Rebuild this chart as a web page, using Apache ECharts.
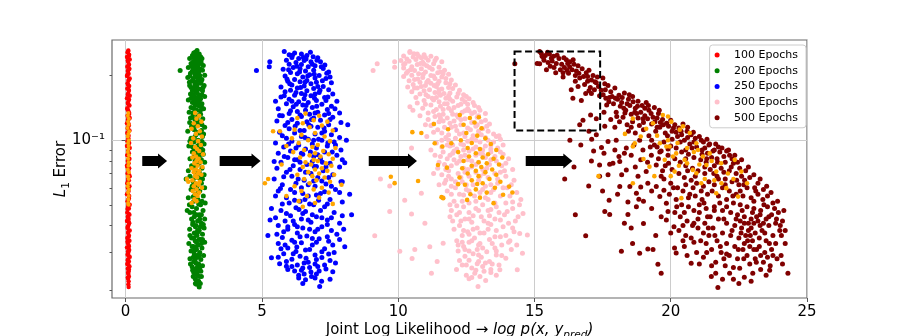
<!DOCTYPE html>
<html><head><meta charset="utf-8">
<script src="https://cdn.jsdelivr.net/npm/echarts@6/dist/echarts.min.js"></script>
<style>html,body{margin:0;padding:0;background:#fff}#c{width:897px;height:336px}</style>
</head><body><div id="c"></div>
<script>
const xTicks=[0,5,10,15,20,25];
const yMajor=[0.1];
const yMinor=[0.02,0.03,0.04,0.05,0.06,0.07,0.08,0.09,0.2];
const legendNames=['100 Epochs','200 Epochs','250 Epochs','300 Epochs','500 Epochs'];

const e100=[[0.1,0.262],[0.07,0.256],[0.13,0.25],[0.05,0.244],[0.15,0.238],[0.09,0.232],[0.12,0.226],[0.06,0.22],[0.14,0.215],[0.08,0.21],[0.11,0.204],[0.05,0.199],[0.15,0.194],[0.1,0.189],[0.07,0.184],[0.13,0.179],[0.06,0.174],[0.12,0.17],[0.09,0.165],[0.15,0.161],[0.05,0.157],[0.11,0.153],[0.08,0.149],[0.14,0.145],[0.06,0.141],[0.1,0.137],[0.13,0.134],[0.07,0.13],[0.15,0.127],[0.09,0.124],[0.05,0.12],[0.12,0.117],[0.08,0.114],[0.14,0.111],[0.06,0.108],[0.11,0.105],[0.1,0.102],[0.07,0.099],[0.13,0.097],[0.05,0.094],[0.15,0.092],[0.09,0.089],[0.12,0.087],[0.06,0.085],[0.14,0.082],[0.08,0.08],[0.11,0.078],[0.05,0.076],[0.13,0.074],[0.1,0.072],[0.07,0.07],[0.15,0.068],[0.09,0.066],[0.12,0.065],[0.06,0.063],[0.14,0.061],[0.08,0.06],[0.11,0.058],[0.05,0.056],[0.13,0.055],[0.1,0.053],[0.07,0.052],[0.15,0.05],[0.09,0.049],[0.12,0.048],[0.06,0.046],[0.14,0.045],[0.08,0.044],[0.11,0.043],[0.05,0.042],[0.13,0.041],[0.1,0.04],[0.07,0.039],[0.15,0.038],[0.09,0.037],[0.12,0.036],[0.06,0.035],[0.14,0.034],[0.08,0.0332],[0.11,0.0324],[0.05,0.0316],[0.13,0.0308],[0.1,0.03],[0.07,0.0293],[0.15,0.0286],[0.09,0.0279],[0.12,0.0272],[0.06,0.0265],[0.14,0.0258],[0.08,0.0252],[0.11,0.0245],[0.1,0.0238],[0.12,0.0232],[0.09,0.0226],[0.11,0.022],[0.1,0.0213],[0.11,0.0207],[0.09,0.259],[0.12,0.247],[0.08,0.235],[0.11,0.223],[0.1,0.212],[0.07,0.202],[0.12,0.192],[0.09,0.181],[0.11,0.172],[0.08,0.163],[0.12,0.155],[0.1,0.147],[0.07,0.139],[0.12,0.132],[0.09,0.125],[0.11,0.119],[0.08,0.113],[0.1,0.098],[0.12,0.093],[0.08,0.086],[0.1,0.081],[0.07,0.075],[0.12,0.069],[0.09,0.0645],[0.11,0.06],[0.08,0.0565],[0.12,0.0535],[0.1,0.0505],[0.07,0.0478],[0.11,0.0455],[0.09,0.0435],[0.12,0.0415],[0.08,0.0395],[0.1,0.0375],[0.11,0.0355],[0.07,0.0337],[0.12,0.032],[0.09,0.0304],[0.11,0.029],[0.08,0.0276],[0.1,0.0262],[0.12,0.025],[0.09,0.0241],[0.08,0.0229]];
const e100sel=[[0.1,0.134],[0.08,0.13],[0.12,0.126],[0.09,0.122],[0.11,0.118],[0.07,0.114],[0.13,0.11],[0.1,0.107],[0.08,0.104],[0.12,0.1],[0.09,0.097],[0.11,0.094],[0.1,0.091],[0.08,0.088],[0.12,0.085],[0.09,0.082],[0.11,0.079],[0.1,0.076],[0.08,0.073],[0.12,0.071],[0.09,0.068],[0.11,0.066],[0.1,0.063],[0.08,0.061],[0.12,0.059],[0.09,0.057],[0.11,0.055],[0.1,0.053],[0.09,0.051],[0.11,0.05]];

const e200=[[2.62,0.262],[2.5,0.255],[2.7,0.252],[2.45,0.248],[2.58,0.246],[2.75,0.245],[2.35,0.24],[2.55,0.238],[2.68,0.236],[2.8,0.24],[2.48,0.232],[2.62,0.23],[2.4,0.228],[2.72,0.228],[2.0,0.211],[2.5,0.224],[2.65,0.222],[2.85,0.223],[2.3,0.218],[2.58,0.216],[2.75,0.214],[2.45,0.21],[2.68,0.208],[2.82,0.212],[2.38,0.205],[2.55,0.203],[2.72,0.2],[2.62,0.198],[2.9,0.201],[2.28,0.196],[2.48,0.194],[2.8,0.192],[2.65,0.19],[2.42,0.188],[2.55,0.186],[2.75,0.184],[2.35,0.18],[2.6,0.178],[2.88,0.18],[2.5,0.175],[2.7,0.173],[2.45,0.17],[2.82,0.17],[2.58,0.167],[2.38,0.164],[2.68,0.162],[2.52,0.159],[2.9,0.16],[2.75,0.156],[2.3,0.154],[2.62,0.152],[2.45,0.15],[2.8,0.148],[2.55,0.146],[2.7,0.144],[2.4,0.142],[2.86,0.14],[2.6,0.138],[2.33,0.135],[2.5,0.133],[2.75,0.132],[2.65,0.13],[2.45,0.128],[2.83,0.126],[2.55,0.124],[2.35,0.121],[2.72,0.12],[2.62,0.117],[2.9,0.115],[2.48,0.113],[2.28,0.11],[2.7,0.108],[2.58,0.106],[2.82,0.104],[2.4,0.102],[2.66,0.1],[2.5,0.098],[2.88,0.096],[2.32,0.094],[2.76,0.092],[2.6,0.09],[2.45,0.088],[2.85,0.086],[2.7,0.084],[2.36,0.082],[2.55,0.08],[2.9,0.079],[2.64,0.077],[2.42,0.076],[2.8,0.074],[2.3,0.072],[2.58,0.07],[2.88,0.069],[2.68,0.067],[2.22,0.066],[2.48,0.064],[2.78,0.063],[2.62,0.061],[2.9,0.06],[2.4,0.059],[2.72,0.058],[2.55,0.056],[2.85,0.055],[2.3,0.054],[2.65,0.053],[2.5,0.052],[2.92,0.051],[2.75,0.05],[2.44,0.049],[2.6,0.048],[2.84,0.047],[2.36,0.046],[2.7,0.045],[2.52,0.044],[2.9,0.043],[2.64,0.042],[2.26,0.047],[2.78,0.041],[2.46,0.0405],[2.58,0.04],[2.88,0.039],[2.35,0.0385],[2.7,0.038],[2.52,0.037],[2.82,0.0365],[2.62,0.036],[2.42,0.035],[2.75,0.0345],[2.55,0.034],[2.9,0.0335],[2.32,0.033],[2.66,0.0325],[2.48,0.032],[2.8,0.0315],[2.6,0.031],[2.4,0.0305],[2.72,0.03],[2.52,0.0295],[2.86,0.029],[2.63,0.0285],[2.36,0.028],[2.76,0.0278],[2.5,0.0272],[2.68,0.0265],[2.82,0.026],[2.44,0.0257],[2.58,0.0252],[2.7,0.0247],[2.5,0.0242],[2.63,0.0236],[2.78,0.0232],[2.55,0.0226],[2.68,0.022],[2.6,0.0213],[2.7,0.0207],[2.56,0.257],[2.66,0.243],[2.52,0.226],[2.6,0.207],[2.7,0.194],[2.62,0.182],[2.58,0.172],[2.66,0.158],[2.48,0.141],[2.62,0.127],[2.56,0.118],[2.78,0.111],[2.52,0.103],[2.7,0.097],[2.6,0.086],[2.78,0.081],[2.5,0.075],[2.7,0.071],[2.54,0.067],[2.66,0.057],[2.6,0.045],[2.72,0.043],[2.56,0.0395],[2.66,0.0375],[2.6,0.0335],[2.54,0.0308],[2.66,0.0292],[2.58,0.0268],[2.72,0.0255],[2.62,0.0243],[2.74,0.0215],[2.48,0.0232],[2.7,0.0345],[2.74,0.0395],[2.48,0.0545],[2.56,0.0625],[2.76,0.0875],[2.52,0.0915],[2.8,0.0985],[2.42,0.116],[2.74,0.137],[2.5,0.155],[2.8,0.163],[2.4,0.176],[2.52,0.213],[2.76,0.233],[2.57,0.249],[2.73,0.238],[2.46,0.219],[2.64,0.211],[2.36,0.199],[2.77,0.187],[2.54,0.181],[2.47,0.162],[2.7,0.151],[2.56,0.139],[2.8,0.118],[2.38,0.127],[2.62,0.109],[2.46,0.093],[2.7,0.078],[2.36,0.068],[2.82,0.066],[2.44,0.061],[2.6,0.054],[2.8,0.052],[2.34,0.05],[2.5,0.046],[2.78,0.045],[2.42,0.043],[2.64,0.038],[2.5,0.035],[2.78,0.033],[2.44,0.032],[2.7,0.029],[2.55,0.0278],[2.38,0.0265],[2.76,0.0245],[2.58,0.0238],[2.6,0.0222],[2.63,0.253],[2.52,0.241],[2.77,0.229],[2.43,0.222],[2.69,0.216],[2.55,0.197],[2.34,0.186],[2.84,0.176],[2.63,0.166],[2.4,0.157],[2.58,0.149],[2.78,0.143],[2.46,0.134],[2.67,0.122],[2.52,0.112],[2.86,0.107],[2.36,0.099],[2.64,0.094],[2.83,0.09],[2.52,0.084],[2.73,0.066],[2.58,0.0595],[2.68,0.0505],[2.47,0.0415],[2.85,0.0405],[2.6,0.0365],[2.36,0.036],[2.82,0.0345],[2.58,0.0318],[2.48,0.0285],[2.64,0.0258],[2.46,0.0248],[2.7,0.0232],[2.56,0.0215]];
const e200sel=[[2.55,0.134],[2.7,0.13],[2.6,0.126],[2.78,0.122],[2.5,0.12],[2.65,0.116],[2.42,0.113],[2.72,0.11],[2.58,0.107],[2.8,0.104],[2.48,0.102],[2.66,0.099],[2.4,0.097],[2.76,0.095],[2.55,0.093],[2.62,0.091],[2.7,0.089],[2.5,0.087],[2.84,0.086],[2.58,0.084],[2.45,0.083],[2.68,0.082],[2.6,0.08],[2.75,0.079],[2.52,0.078],[2.64,0.076],[2.82,0.075],[2.42,0.074],[2.58,0.073],[2.7,0.072],[2.5,0.071],[2.66,0.07],[2.78,0.069],[2.55,0.068],[2.62,0.067],[2.25,0.066],[2.3,0.064],[2.45,0.065],[2.72,0.064],[2.58,0.063],[2.68,0.062],[2.5,0.061],[2.8,0.06],[2.6,0.059],[2.46,0.058],[2.7,0.057],[2.55,0.056],[2.64,0.055],[2.52,0.053],[2.6,0.052],[2.42,0.051]];

const e250=[[5.82,0.259],[6.0,0.25],[6.88,0.245],[7.31,0.224],[6.2,0.255],[6.45,0.252],[6.65,0.248],[6.1,0.243],[6.35,0.24],[7.05,0.242],[5.9,0.236],[6.55,0.235],[6.8,0.232],[6.25,0.23],[7.15,0.232],[6.0,0.226],[6.45,0.225],[6.95,0.222],[6.7,0.22],[5.29,0.232],[5.27,0.22],[4.8,0.211],[5.78,0.214],[6.15,0.218],[6.4,0.215],[7.25,0.216],[6.9,0.212],[6.6,0.21],[6.05,0.207],[7.45,0.208],[6.3,0.204],[6.75,0.202],[7.1,0.2],[5.85,0.199],[6.5,0.197],[6.95,0.195],[7.35,0.194],[6.2,0.192],[6.65,0.19],[5.95,0.188],[6.4,0.187],[7.0,0.186],[7.55,0.185],[6.8,0.183],[6.1,0.181],[6.55,0.179],[7.25,0.178],[5.7,0.177],[6.3,0.175],[6.9,0.174],[7.45,0.172],[6.05,0.171],[6.65,0.17],[5.85,0.168],[7.1,0.167],[6.45,0.165],[7.6,0.164],[6.2,0.162],[6.8,0.161],[5.7,0.159],[7.3,0.158],[6.55,0.156],[6.0,0.155],[7.0,0.153],[7.75,0.152],[6.35,0.151],[6.7,0.15],[5.9,0.148],[7.2,0.147],[6.5,0.146],[7.55,0.144],[6.15,0.143],[6.85,0.142],[5.6,0.14],[7.4,0.139],[6.6,0.138],[6.3,0.136],[7.05,0.135],[7.85,0.134],[6.0,0.133],[6.75,0.132],[7.3,0.131],[5.75,0.13],[6.45,0.129],[7.6,0.128],[6.9,0.127],[6.1,0.125],[7.15,0.124],[5.55,0.123],[6.65,0.122],[7.9,0.121],[6.3,0.12],[7.45,0.118],[5.85,0.117],[6.8,0.116],[7.05,0.115],[6.0,0.113],[7.7,0.112],[6.55,0.111],[7.3,0.11],[5.65,0.109],[6.2,0.108],[6.95,0.107],[7.55,0.106],[6.45,0.104],[7.85,0.103],[5.9,0.102],[6.7,0.101],[7.2,0.1],[6.1,0.099],[7.65,0.098],[5.5,0.097],[6.85,0.096],[6.35,0.095],[7.4,0.094],[5.8,0.093],[7.0,0.092],[6.6,0.091],[7.9,0.09],[6.05,0.089],[7.3,0.088],[5.6,0.087],[6.5,0.086],[7.75,0.085],[6.9,0.084],[5.95,0.083],[7.15,0.082],[6.3,0.081],[8.04,0.0785],[5.7,0.079],[7.5,0.078],[6.65,0.077],[6.15,0.076],[7.0,0.0755],[7.85,0.075],[5.55,0.074],[6.4,0.073],[7.25,0.072],[5.9,0.071],[6.8,0.07],[7.6,0.069],[6.1,0.068],[7.05,0.067],[5.45,0.066],[6.55,0.065],[7.9,0.064],[6.25,0.063],[7.35,0.0625],[5.75,0.062],[6.95,0.061],[6.45,0.06],[7.7,0.059],[5.6,0.058],[6.2,0.057],[7.15,0.0565],[8.22,0.056],[6.7,0.055],[5.9,0.054],[7.5,0.053],[6.4,0.052],[7.95,0.0515],[6.0,0.051],[6.9,0.05],[5.35,0.048],[7.3,0.049],[6.25,0.0485],[5.7,0.047],[6.6,0.0465],[7.65,0.046],[8.29,0.045],[6.05,0.0445],[7.0,0.044],[5.5,0.0435],[6.45,0.043],[7.4,0.0425],[5.85,0.042],[6.8,0.0415],[7.85,0.041],[6.2,0.0405],[5.6,0.04],[7.2,0.0395],[6.5,0.039],[5.95,0.0385],[7.55,0.038],[6.95,0.0375],[6.3,0.037],[5.22,0.036],[7.75,0.0365],[6.65,0.0358],[5.75,0.0352],[7.1,0.0347],[6.1,0.0342],[7.45,0.0338],[6.45,0.0333],[5.6,0.033],[6.85,0.0325],[8.04,0.0319],[5.95,0.0315],[7.3,0.0312],[6.6,0.0308],[6.25,0.0303],[7.65,0.03],[5.8,0.0296],[6.95,0.0292],[5.35,0.0283],[6.4,0.0288],[7.2,0.0284],[6.1,0.0279],[7.5,0.0275],[6.7,0.027],[5.65,0.0266],[6.3,0.0262],[7.05,0.0258],[6.5,0.0254],[5.95,0.025],[7.35,0.0251],[6.2,0.0246],[6.8,0.0243],[7.6,0.0244],[6.55,0.0238],[6.82,0.0232],[6.35,0.0228],[7.19,0.022],[6.6,0.0224],[7.12,0.0208],[6.52,0.243],[6.78,0.257],[7.02,0.236],[6.28,0.221],[6.85,0.226],[7.38,0.205],[5.98,0.213],[6.68,0.199],[7.22,0.189],[6.02,0.183],[6.42,0.176],[7.13,0.171],[5.82,0.161],[6.58,0.163],[7.42,0.159],[6.93,0.157],[6.26,0.147],[7.01,0.144],[7.68,0.14],[6.4,0.131],[6.95,0.134],[7.5,0.125],[5.95,0.121],[6.72,0.118],[7.28,0.114],[6.22,0.116],[5.75,0.105],[6.58,0.103],[7.08,0.101],[7.42,0.097],[6.25,0.092],[6.78,0.088],[7.58,0.088],[5.82,0.084],[6.4,0.079],[7.22,0.079],[6.03,0.073],[6.92,0.0755],[7.45,0.067],[6.33,0.066],[6.7,0.062],[5.68,0.0595],[7.3,0.0575],[6.58,0.053],[7.08,0.0525],[5.75,0.0505],[6.36,0.0475],[7.15,0.047],[6.85,0.045],[7.55,0.0435],[6.15,0.042],[5.95,0.0395],[6.75,0.0385],[7.4,0.0405],[6.4,0.0355],[7.0,0.0335],[7.85,0.0345],[6.28,0.0318],[5.7,0.0312],[7.45,0.0295],[6.62,0.0282],[5.9,0.0272],[6.95,0.0265],[7.7,0.0268],[6.45,0.0248],[7.0,0.0238],[6.1,0.0258],[5.55,0.0365],[5.45,0.0795],[5.65,0.1305],[5.5,0.152],[8.1,0.1],[7.95,0.064],[8.15,0.118],[6.12,0.249],[6.62,0.239],[7.18,0.22],[6.38,0.208],[6.92,0.203],[5.92,0.193],[7.5,0.197],[6.58,0.186],[7.05,0.178],[6.25,0.167],[6.95,0.164],[7.35,0.153],[6.1,0.152],[6.62,0.145],[7.45,0.133],[6.82,0.125],[6.05,0.137],[7.2,0.108],[6.4,0.111],[6.9,0.1],[5.98,0.096],[7.7,0.095],[6.45,0.087],[7.05,0.0855],[7.95,0.081],[6.2,0.081],[6.85,0.0795],[7.35,0.075],[6.6,0.071],[5.8,0.0675],[7.2,0.0645],[6.9,0.0645],[6.05,0.059],[7.55,0.061],[6.5,0.0565],[7.0,0.0555],[5.5,0.055],[7.85,0.057],[6.2,0.0525],[6.75,0.0505],[7.4,0.0505],[6.5,0.0455],[5.9,0.0455],[7.2,0.0435],[6.7,0.0425],[7.95,0.0445],[6.3,0.0395],[7.05,0.0385],[5.8,0.0375],[7.4,0.0355],[6.85,0.0348],[6.2,0.0335],[7.6,0.0325],[5.85,0.0325],[6.75,0.031],[7.2,0.0302],[6.15,0.0296],[7.0,0.0278],[6.55,0.0268],[7.3,0.0262],[5.9,0.0259],[6.75,0.0255],[7.1,0.0246],[6.35,0.0235],[6.95,0.0228],[6.5,0.0215],[7.5,0.0225],[5.6,0.0285],[5.3,0.0425],[8.0,0.0385]];
const e250sel=[[6.6,0.133],[7.1,0.13],[6.3,0.127],[6.9,0.124],[7.4,0.122],[6.5,0.12],[7.2,0.117],[6.75,0.115],[5.41,0.11],[5.66,0.11],[6.2,0.112],[7.6,0.111],[6.95,0.108],[6.45,0.106],[7.3,0.104],[6.1,0.102],[6.7,0.1],[7.5,0.099],[6.35,0.097],[7.05,0.095],[5.9,0.094],[6.85,0.093],[7.7,0.092],[6.55,0.09],[7.25,0.089],[6.15,0.088],[6.95,0.087],[7.45,0.086],[6.75,0.085],[7.15,0.084],[6.4,0.083],[7.6,0.082],[6.9,0.081],[7.05,0.08],[6.6,0.079],[7.35,0.078],[6.8,0.077],[5.72,0.077],[7.55,0.076],[6.5,0.075],[7.2,0.074],[6.95,0.073],[7.4,0.072],[6.7,0.071],[7.1,0.07],[6.3,0.069],[7.65,0.069],[6.85,0.068],[7.3,0.067],[5.23,0.066],[6.55,0.066],[7.0,0.065],[7.5,0.064],[5.11,0.063],[6.75,0.063],[7.92,0.062],[6.2,0.061],[7.2,0.06],[6.9,0.059],[6.45,0.058],[7.45,0.057],[5.9,0.055],[6.65,0.055],[7.1,0.054],[6.35,0.052],[6.95,0.051],[7.6,0.0505],[6.5,0.049]];

const e300=[[10.43,0.259],[10.43,0.256],[10.7,0.252],[10.95,0.25],[10.2,0.247],[11.2,0.246],[10.55,0.244],[10.85,0.242],[11.4,0.241],[10.1,0.235],[10.65,0.238],[11.1,0.236],[9.87,0.232],[9.23,0.227],[9.08,0.211],[9.87,0.219],[10.4,0.233],[10.9,0.231],[11.6,0.232],[10.25,0.228],[11.3,0.227],[10.7,0.225],[11.05,0.222],[10.5,0.22],[11.5,0.219],[10.2,0.217],[10.85,0.215],[11.25,0.214],[11.7,0.212],[10.6,0.211],[10.35,0.209],[11.0,0.208],[11.45,0.206],[10.75,0.204],[11.85,0.203],[10.5,0.201],[11.2,0.2],[10.2,0.198],[11.6,0.197],[10.9,0.196],[11.35,0.194],[10.6,0.192],[11.95,0.191],[11.1,0.19],[10.4,0.189],[11.5,0.188],[10.8,0.186],[11.75,0.185],[11.2,0.184],[10.55,0.182],[12.1,0.181],[11.0,0.18],[11.4,0.178],[10.35,0.177],[11.85,0.176],[10.7,0.175],[11.6,0.173],[11.15,0.172],[12.25,0.171],[10.95,0.17],[10.5,0.168],[11.35,0.167],[11.9,0.166],[10.8,0.164],[12.4,0.163],[11.55,0.162],[11.1,0.16],[12.15,0.159],[10.65,0.158],[11.75,0.157],[12.6,0.156],[11.3,0.154],[10.95,0.153],[12.0,0.152],[11.5,0.151],[12.75,0.15],[10.43,0.143],[10.7,0.149],[11.8,0.148],[12.3,0.147],[11.2,0.146],[12.8,0.145],[11.55,0.144],[12.05,0.142],[10.9,0.141],[12.55,0.14],[11.4,0.139],[13.0,0.138],[10.54,0.138],[11.95,0.137],[12.35,0.135],[11.1,0.134],[12.7,0.133],[11.65,0.132],[12.15,0.131],[10.8,0.13],[11.35,0.129],[12.9,0.128],[11.8,0.127],[12.45,0.126],[11.1,0.125],[13.2,0.124],[12.05,0.123],[11.5,0.122],[12.7,0.121],[11.9,0.12],[13.35,0.119],[12.3,0.118],[11.2,0.117],[12.85,0.116],[11.7,0.115],[12.55,0.114],[13.1,0.113],[11.45,0.112],[12.15,0.111],[12.95,0.11],[11.3,0.109],[12.4,0.108],[13.5,0.107],[11.85,0.106],[12.75,0.105],[11.05,0.104],[13.2,0.103],[12.1,0.102],[13.75,0.101],[11.6,0.1],[12.55,0.099],[13.0,0.098],[11.4,0.097],[12.3,0.096],[13.4,0.095],[11.9,0.094],[12.85,0.093],[10.49,0.092],[13.65,0.092],[12.15,0.091],[11.2,0.09],[13.1,0.09],[12.6,0.089],[11.65,0.088],[13.4,0.088],[12.0,0.087],[13.85,0.086],[11.35,0.085],[12.85,0.085],[12.3,0.084],[13.2,0.083],[11.8,0.082],[14.05,0.082],[12.55,0.081],[13.6,0.08],[11.5,0.079],[12.95,0.079],[12.15,0.078],[13.35,0.077],[11.95,0.076],[13.8,0.076],[12.7,0.075],[11.45,0.074],[12.4,0.074],[13.1,0.073],[14.2,0.073],[11.85,0.072],[12.85,0.071],[13.55,0.07],[12.2,0.07],[11.6,0.069],[13.95,0.068],[12.6,0.068],[13.3,0.067],[11.95,0.066],[9.35,0.066],[12.95,0.065],[14.25,0.065],[12.35,0.064],[13.65,0.063],[11.7,0.063],[12.75,0.062],[9.69,0.0612],[13.2,0.061],[14.0,0.06],[12.1,0.06],[10.85,0.0566],[12.5,0.059],[13.5,0.059],[11.8,0.058],[13.0,0.057],[14.35,0.057],[12.25,0.056],[13.75,0.055],[12.8,0.055],[11.65,0.054],[13.3,0.053],[14.5,0.053],[12.05,0.052],[12.6,0.051],[10.24,0.0525],[13.95,0.051],[13.1,0.05],[11.9,0.05],[12.4,0.049],[13.6,0.049],[14.58,0.0455],[12.85,0.048],[14.2,0.048],[11.95,0.047],[9.69,0.0465],[13.3,0.047],[12.6,0.046],[13.9,0.045],[10.49,0.0453],[12.15,0.045],[13.05,0.044],[14.4,0.044],[12.45,0.043],[13.55,0.043],[12.0,0.042],[13.15,0.042],[10.98,0.041],[12.7,0.0415],[14.05,0.041],[13.4,0.0405],[12.25,0.04],[13.85,0.0395],[12.9,0.039],[14.46,0.0368],[14.74,0.0362],[12.05,0.0385],[13.6,0.038],[12.55,0.0375],[14.25,0.0375],[13.15,0.037],[12.35,0.036],[13.75,0.0355],[9.14,0.0359],[12.8,0.035],[11.65,0.0331],[13.35,0.0345],[12.15,0.034],[14.1,0.034],[12.6,0.0335],[13.0,0.033],[13.8,0.0325],[11.16,0.0319],[12.4,0.032],[13.55,0.0315],[12.9,0.031],[10.61,0.031],[10.06,0.0304],[14.15,0.031],[12.2,0.0305],[13.25,0.0302],[14.56,0.0297],[12.75,0.0296],[13.6,0.0292],[10.51,0.0281],[12.45,0.0288],[13.05,0.0285],[13.95,0.0282],[11.43,0.0272],[12.6,0.0276],[13.35,0.0272],[12.9,0.0266],[13.7,0.0262],[12.35,0.0262],[13.1,0.0258],[12.14,0.025],[13.73,0.0249],[14.37,0.0249],[12.7,0.0254],[11.22,0.024],[12.81,0.024],[13.4,0.0242],[12.5,0.0235],[13.0,0.0232],[13.21,0.0222],[12.93,0.0208],[12.6,0.0226],[11.25,0.157],[11.85,0.161],[12.35,0.155],[11.65,0.139],[12.2,0.128],[12.6,0.137],[11.55,0.127],[12.9,0.118],[12.45,0.104],[11.75,0.103],[13.3,0.11],[12.85,0.1],[12.0,0.095],[13.5,0.098],[12.4,0.09],[11.9,0.085],[13.0,0.087],[13.55,0.084],[12.25,0.08],[11.7,0.077],[12.85,0.077],[13.95,0.078],[13.15,0.07],[12.45,0.071],[11.85,0.068],[13.75,0.071],[12.1,0.064],[13.4,0.062],[12.6,0.058],[11.95,0.056],[13.2,0.054],[14.1,0.055],[12.35,0.052],[13.55,0.051],[12.95,0.047],[12.25,0.046],[13.7,0.046],[14.3,0.042],[12.6,0.043],[13.3,0.041],[12.4,0.038],[13.0,0.037],[13.95,0.036],[12.7,0.034],[13.45,0.033],[12.45,0.031],[14.35,0.0325],[13.1,0.0315],[13.8,0.029],[12.25,0.0275],[12.95,0.0272],[13.4,0.025],[12.2,0.0325],[11.9,0.044],[11.5,0.062],[11.3,0.07],[11.8,0.095],[11.0,0.118],[10.6,0.175],[11.45,0.183],[10.3,0.205],[10.95,0.226],[11.65,0.204],[10.75,0.246],[11.5,0.166],[12.2,0.145],[10.2,0.225],[11.95,0.115],[13.6,0.104],[14.15,0.062],[14.45,0.05],[10.58,0.253],[11.0,0.243],[10.32,0.239],[11.35,0.235],[10.82,0.228],[11.15,0.218],[10.45,0.213],[11.55,0.208],[10.92,0.203],[11.3,0.199],[11.75,0.194],[10.72,0.193],[11.05,0.186],[11.9,0.183],[11.32,0.18],[10.85,0.178],[12.0,0.174],[11.5,0.172],[11.02,0.163],[11.68,0.165],[12.2,0.165],[12.5,0.16],[11.4,0.158],[11.9,0.155],[12.45,0.151],[11.0,0.147],[11.7,0.148],[12.55,0.147],[12.95,0.142],[11.3,0.136],[11.85,0.141],[12.45,0.137],[12.8,0.135],[11.5,0.131],[12.0,0.132],[12.95,0.13],[13.2,0.133],[11.65,0.123],[12.3,0.125],[13.05,0.122],[11.3,0.119],[12.1,0.116],[12.65,0.112],[13.25,0.116],[11.6,0.108],[12.25,0.107],[13.05,0.106],[13.7,0.105],[11.85,0.1],[12.7,0.101],[13.3,0.1],[11.6,0.093],[12.4,0.095],[13.2,0.094],[13.85,0.095],[12.05,0.089],[12.75,0.091],[13.4,0.091],[11.55,0.084],[12.45,0.085],[13.1,0.086],[13.75,0.088],[12.05,0.081],[12.7,0.08],[13.4,0.081],[13.9,0.072],[11.75,0.073],[12.55,0.073],[13.25,0.074],[12.3,0.067],[13.0,0.068],[13.65,0.066],[11.75,0.065],[12.5,0.062],[13.1,0.059],[13.85,0.06],[11.95,0.061],[12.4,0.0555],[13.4,0.057],[14.2,0.0515],[12.15,0.0495],[12.85,0.052],[13.4,0.0475],[14.0,0.0465],[12.75,0.0445],[13.35,0.0445],[12.3,0.042],[13.75,0.0425],[14.2,0.039],[12.75,0.0385],[13.3,0.0385],[12.6,0.0365],[13.55,0.0355],[14.05,0.0335],[12.35,0.0335],[12.95,0.0325],[13.6,0.0305],[12.6,0.0305],[12.95,0.0292],[13.2,0.0268],[12.5,0.0262],[13.45,0.0265],[12.85,0.0248],[13.15,0.0245],[12.7,0.0229],[13.6,0.0235]];
const e300sel=[[10.52,0.109],[10.85,0.108],[11.31,0.119],[9.73,0.0676],[9.87,0.0631],[10.73,0.0646],[11.46,0.0766],[11.79,0.0745],[11.59,0.0543],[11.65,0.0537],[12.2,0.0624],[12.53,0.0527],[13.5,0.0509],[14.19,0.0571],[14.07,0.0608],[13.85,0.0557],[13.82,0.083],[12.26,0.131],[12.63,0.127],[12.96,0.128],[13.06,0.1137],[11.83,0.1125],[11.34,0.0968],[11.62,0.0934],[11.95,0.0968],[12.4,0.118],[12.8,0.121],[12.5,0.108],[12.9,0.105],[13.2,0.102],[12.3,0.1],[12.7,0.097],[13.4,0.096],[12.55,0.092],[13.0,0.091],[13.6,0.09],[12.2,0.088],[12.85,0.087],[13.3,0.086],[12.6,0.084],[13.1,0.083],[13.5,0.082],[12.4,0.08],[12.95,0.079],[13.25,0.078],[13.7,0.077],[12.7,0.076],[13.05,0.075],[12.35,0.074],[13.45,0.073],[12.85,0.072],[13.2,0.071],[12.55,0.07],[13.6,0.069],[12.95,0.068],[12.25,0.067],[13.35,0.066],[12.7,0.065],[13.75,0.064],[13.1,0.063],[12.45,0.062],[13.55,0.06],[12.85,0.059],[13.25,0.057],[12.65,0.056],[13.0,0.054],[12.9,0.0625]];

const e500=[[14.28,0.227],[15.1,0.228],[15.19,0.259],[15.25,0.254],[15.62,0.241],[15.19,0.227],[15.8,0.228],[16.17,0.237],[15.44,0.213],[15.78,0.206],[16.05,0.206],[16.29,0.22],[16.54,0.21],[16.66,0.195],[16.9,0.206],[17.09,0.191],[17.27,0.185],[16.84,0.182],[16.35,0.172],[16.41,0.157],[16.72,0.153],[17.09,0.165],[17.39,0.161],[17.7,0.18],[17.51,0.195],[16.78,0.124],[16.66,0.118],[17.06,0.131],[17.27,0.126],[15.4,0.248],[15.55,0.252],[15.7,0.246],[15.9,0.24],[15.35,0.236],[15.5,0.23],[15.65,0.234],[16.0,0.226],[16.3,0.232],[16.45,0.226],[16.1,0.218],[16.6,0.222],[16.75,0.215],[16.95,0.198],[16.5,0.2],[16.25,0.205],[17.15,0.2],[16.95,0.188],[17.35,0.178],[17.2,0.172],[16.6,0.178],[17.6,0.172],[17.8,0.168],[17.95,0.175],[18.1,0.162],[17.75,0.158],[18.3,0.166],[18.45,0.155],[18.2,0.15],[18.6,0.16],[18.8,0.152],[18.15,0.144],[18.5,0.145],[18.7,0.141],[18.95,0.145],[19.1,0.15],[18.35,0.138],[18.9,0.135],[19.2,0.138],[19.4,0.142],[18.55,0.132],[19.05,0.13],[19.35,0.128],[18.8,0.127],[19.55,0.133],[17.9,0.148],[17.65,0.146],[18.0,0.135],[18.25,0.128],[17.55,0.135],[18.6,0.122],[19.0,0.121],[19.3,0.119],[17.8,0.125],[18.4,0.118],[17.95,0.115],[16.11,0.066],[16.99,0.0612],[17.39,0.068],[17.39,0.0767],[17.17,0.0891],[17.46,0.0924],[17.76,0.0772],[17.88,0.078],[18.1,0.084],[17.7,0.069],[17.74,0.0525],[17.58,0.0465],[17.76,0.0451],[18.43,0.0516],[18.43,0.0451],[18.83,0.0531],[18.74,0.049],[19.0,0.0409],[16.88,0.0359],[18.19,0.0304],[18.86,0.0297],[19.16,0.0311],[19.53,0.0264],[19.65,0.024],[18.13,0.0608],[18.5,0.0608],[18.74,0.0566],[19.16,0.063],[19.47,0.0608],[19.6,0.0546],[19.84,0.0509],[19.84,0.0425],[20.12,0.0395],[19.9,0.0465],[17.27,0.106],[17.58,0.116],[18.0,0.1],[18.37,0.092],[18.55,0.085],[18.86,0.1],[18.98,0.09],[19.29,0.085],[19.47,0.0766],[19.1,0.0714],[19.65,0.068],[18.8,0.068],[18.37,0.0727],[18.13,0.0795],[18.7,0.108],[19.2,0.105],[19.45,0.11],[18.45,0.11],[19.0,0.112],[19.4,0.095],[18.65,0.095],[19.6,0.088],[19.15,0.079],[18.9,0.081],[17.09,0.08],[16.7,0.095],[16.3,0.1],[17.0,0.11],[16.45,0.075],[17.7,0.0985],[19.7,0.125],[19.85,0.12],[20.0,0.124],[20.15,0.118],[20.3,0.114],[20.45,0.119],[20.6,0.11],[20.75,0.106],[20.9,0.102],[21.05,0.104],[21.2,0.098],[21.4,0.095],[19.6,0.115],[19.8,0.108],[20.05,0.11],[20.25,0.104],[20.5,0.1],[20.7,0.096],[20.95,0.093],[21.15,0.09],[21.35,0.087],[19.75,0.098],[20.0,0.094],[20.2,0.092],[20.4,0.088],[20.65,0.086],[20.85,0.083],[21.1,0.081],[21.3,0.079],[21.5,0.083],[19.65,0.089],[19.9,0.085],[20.15,0.082],[20.35,0.079],[20.55,0.076],[20.8,0.074],[21.0,0.072],[21.25,0.07],[21.45,0.073],[19.8,0.076],[20.05,0.073],[20.3,0.07],[20.5,0.067],[20.75,0.065],[20.95,0.063],[21.2,0.061],[21.4,0.064],[19.75,0.066],[20.0,0.063],[20.25,0.06],[20.45,0.058],[20.7,0.056],[20.9,0.055],[21.15,0.053],[21.35,0.056],[19.95,0.056],[20.2,0.053],[20.4,0.05],[20.65,0.049],[20.85,0.047],[21.05,0.046],[21.3,0.048],[20.15,0.046],[20.35,0.044],[20.6,0.042],[20.8,0.04],[21.0,0.039],[21.25,0.041],[21.45,0.044],[20.3,0.038],[20.55,0.036],[20.75,0.035],[21.1,0.034],[21.4,0.036],[20.14,0.0315],[20.2,0.0298],[20.75,0.0267],[21.49,0.0232],[21.73,0.0206],[20.5,0.032],[20.95,0.03],[21.2,0.0285],[21.3,0.033],[21.43,0.096],[22.16,0.085],[22.53,0.074],[22.71,0.065],[23.08,0.06],[23.38,0.053],[23.81,0.048],[24.06,0.036],[24.3,0.024],[21.6,0.09],[21.8,0.088],[21.95,0.084],[21.7,0.082],[22.0,0.079],[22.3,0.078],[21.6,0.076],[21.85,0.074],[22.15,0.072],[22.4,0.07],[22.6,0.068],[21.7,0.068],[22.0,0.066],[22.25,0.064],[22.5,0.062],[22.8,0.06],[21.6,0.062],[21.9,0.06],[22.15,0.058],[22.4,0.056],[22.65,0.055],[22.95,0.054],[23.2,0.056],[21.75,0.055],[22.05,0.053],[22.3,0.051],[22.55,0.05],[22.8,0.049],[23.05,0.048],[23.3,0.047],[23.55,0.049],[21.6,0.049],[21.9,0.047],[22.2,0.046],[22.45,0.045],[22.7,0.044],[22.95,0.043],[23.2,0.042],[23.5,0.043],[23.7,0.045],[21.75,0.043],[22.05,0.041],[22.35,0.04],[22.6,0.039],[22.85,0.038],[23.1,0.037],[23.35,0.038],[23.6,0.04],[23.85,0.041],[21.55,0.039],[21.9,0.037],[22.2,0.036],[22.5,0.035],[22.75,0.036],[23.0,0.034],[23.25,0.035],[23.5,0.034],[23.75,0.036],[24.0,0.038],[21.7,0.034],[22.05,0.033],[22.35,0.032],[22.65,0.031],[22.9,0.032],[23.15,0.031],[23.45,0.03],[23.7,0.031],[21.5,0.031],[21.85,0.03],[22.15,0.029],[22.45,0.028],[22.8,0.029],[23.1,0.028],[23.4,0.027],[23.65,0.026],[21.65,0.027],[22.0,0.026],[22.3,0.0255],[22.53,0.0253],[22.16,0.024],[23.01,0.024],[23.14,0.027],[23.63,0.0248],[21.9,0.0225],[22.7,0.023],[22.5,0.0215],[23.3,0.025],[24.2,0.033],[23.9,0.028],[15.33,0.243],[15.58,0.221],[15.95,0.213],[16.22,0.228],[16.38,0.213],[16.05,0.197],[16.8,0.198],[17.22,0.187],[17.45,0.171],[17.05,0.176],[16.88,0.165],[17.62,0.157],[17.85,0.16],[18.05,0.155],[18.22,0.158],[18.4,0.148],[18.62,0.151],[18.78,0.144],[19.05,0.141],[19.28,0.133],[19.5,0.127],[18.32,0.134],[18.75,0.133],[19.15,0.126],[19.62,0.121],[19.92,0.116],[18.12,0.122],[18.85,0.117],[19.5,0.115],[20.2,0.109],[20.4,0.106],[20.05,0.101],[20.62,0.103],[20.85,0.098],[21.25,0.092],[21.55,0.089],[21.75,0.093],[22.05,0.089],[22.25,0.082],[22.45,0.079],[22.75,0.072],[22.9,0.067],[23.2,0.063],[23.4,0.059],[23.55,0.055],[23.75,0.051],[23.95,0.046],[24.1,0.042],[24.2,0.038],[19.3,0.1],[19.5,0.093],[19.9,0.091],[20.55,0.09],[21.15,0.086],[21.95,0.071],[22.55,0.058],[23.05,0.052],[23.6,0.044],[23.85,0.033],[24.05,0.029],[22.85,0.041],[22.55,0.042],[22.95,0.039],[23.15,0.044],[23.4,0.041],[22.7,0.033],[23.25,0.032],[23.55,0.0285],[21.35,0.044],[21.6,0.047],[21.05,0.05],[20.65,0.054],[20.1,0.06],[20.55,0.062],[20.9,0.068],[21.25,0.075],[21.8,0.051],[22.05,0.049],[21.95,0.043],[21.2,0.037],[20.85,0.041],[20.45,0.04],[20.0,0.037],[20.6,0.029],[21.05,0.0265],[21.5,0.026],[22.3,0.0225],[22.9,0.0265],[23.5,0.0235],[21.95,0.028],[17.5,0.058],[18.2,0.069],[18.55,0.039],[19.3,0.048],[19.45,0.036],[18.9,0.0605],[19.75,0.0585],[16.5,0.045],[17.95,0.09],[17.1,0.101],[15.48,0.257],[15.83,0.249],[16.08,0.242],[15.28,0.246],[16.42,0.237],[15.72,0.218],[16.2,0.211],[16.63,0.205],[17.0,0.212],[17.31,0.197],[16.5,0.188],[17.0,0.17],[17.58,0.183],[17.52,0.163],[17.73,0.151],[17.97,0.157],[18.28,0.141],[18.48,0.163],[18.68,0.135],[19.18,0.145],[19.58,0.138],[18.98,0.126],[19.42,0.122],[18.02,0.129],[18.55,0.115],[19.73,0.118],[20.1,0.114],[20.38,0.11],[20.62,0.115],[20.83,0.109],[21.12,0.1],[21.33,0.101],[21.65,0.096],[21.88,0.092],[22.12,0.09],[22.35,0.085],[22.6,0.081],[22.85,0.075],[23.05,0.069],[23.28,0.066],[23.52,0.061],[23.68,0.057],[23.92,0.052],[24.15,0.047],[19.88,0.105],[20.35,0.098],[20.78,0.092],[21.32,0.082],[21.72,0.079],[22.22,0.075],[22.68,0.062],[22.42,0.065],[23.12,0.058],[23.42,0.05],[23.88,0.043],[24.02,0.04],[19.92,0.078],[20.62,0.072],[21.58,0.07],[22.0,0.062],[21.12,0.058],[20.82,0.06],[21.52,0.058],[22.28,0.055],[22.62,0.047],[23.0,0.046],[23.28,0.045],[22.4,0.043],[22.7,0.041],[23.05,0.041],[22.58,0.037],[22.92,0.036],[23.28,0.04],[22.82,0.034],[23.45,0.037],[23.62,0.033],[22.25,0.038],[21.62,0.036],[21.38,0.039],[21.82,0.032],[22.48,0.031],[23.05,0.031],[22.68,0.028],[23.3,0.029],[22.05,0.0295],[21.32,0.03],[20.85,0.0335],[20.45,0.034],[21.0,0.043],[20.5,0.046],[20.22,0.049],[21.22,0.051],[21.75,0.066],[20.55,0.082],[19.55,0.082],[19.25,0.093],[19.7,0.072],[19.3,0.058],[18.7,0.075],[18.3,0.087],[17.55,0.087],[18.05,0.056],[19.0,0.052],[18.3,0.041],[19.65,0.044],[18.6,0.033],[19.35,0.031],[21.65,0.024],[22.95,0.022],[23.75,0.029],[24.1,0.0265]];
const e500sel=[[17.35,0.068],[18.61,0.126],[18.32,0.107],[18.68,0.0968],[18.61,0.0934],[18.61,0.063],[19.0,0.0818],[19.22,0.0753],[19.35,0.12],[19.71,0.131],[20.02,0.122],[19.6,0.0968],[19.84,0.0934],[20.08,0.084],[20.14,0.0714],[19.78,0.081],[19.9,0.129],[20.33,0.112],[20.45,0.116],[20.7,0.108],[19.96,0.0934],[20.2,0.0868],[20.51,0.081],[20.81,0.0727],[20.94,0.0702],[21.12,0.063],[21.31,0.0766],[21.67,0.0714],[21.86,0.063],[22.04,0.0598],[22.35,0.081],[22.59,0.0714],[22.47,0.0546],[20.39,0.0537],[21.67,0.0566],[20.94,0.0968],[21.43,0.0868],[21.18,0.084],[19.5,0.105],[19.9,0.1],[20.25,0.097],[20.6,0.092],[20.85,0.088],[21.05,0.077],[20.6,0.078],[21.5,0.08],[21.85,0.078],[22.1,0.07],[22.3,0.066],[21.0,0.09],[20.3,0.076],[20.0,0.068],[19.4,0.068],[18.9,0.104],[19.1,0.113],[21.25,0.066],[21.6,0.065],[22.8,0.063]];

const arrows=[[0.61,1.52,0.08],[3.45,4.95,0.08],[8.92,10.69,0.08],[14.68,16.39,0.08]];
const zoomBox=[[14.27,17.41,0.111,0.259]];

const FONT='DejaVu Sans';
const chart=echarts.init(document.getElementById('c'),null,{renderer:'canvas'});

function sc(name,data,color,size){
  return {type:'scatter',name:name,data:data,symbol:'circle',symbolSize:size,
    itemStyle:{color:color,opacity:1},silent:true,z:2};
}
const cols=['#ff0000','#008000','#0000ff','#ffc0cb','#800000'];
const ORANGE='#ffa500';

const series=[
  sc(legendNames[0],e100,cols[0],4.4), sc('sel100',e100sel,ORANGE,4),
  sc(legendNames[1],e200,cols[1],5), sc('sel200',e200sel,ORANGE,4.6),
  sc(legendNames[2],e250,cols[2],5), sc('sel250',e250sel,ORANGE,4.6),
  sc(legendNames[3],e300,cols[3],5), sc('sel300',e300sel,ORANGE,4.6),
  sc(legendNames[4],e500,cols[4],5), sc('sel500',e500sel,ORANGE,4.6),
  {type:'custom',name:'arrows',data:arrows,encode:{x:[0,1],y:2},z:6,silent:true,
    renderItem:function(params,api){
      const p0=api.coord([api.value(0),api.value(2)]);
      const p1=api.coord([api.value(1),api.value(2)]);
      const y=p0[1],x0=p0[0],x1=p1[0];
      const hl=9,sh=5,hh=7.5;
      return {type:'polygon',shape:{points:[[x0,y-sh],[x1-hl,y-sh],[x1-hl,y-hh],[x1,y],[x1-hl,y+hh],[x1-hl,y+sh],[x0,y+sh]]},style:{fill:'#000'}};
    }},
  {type:'custom',name:'box',data:zoomBox,encode:{x:[0,1],y:[2,3]},z:6,silent:true,
    renderItem:function(params,api){
      const a=api.coord([api.value(0),api.value(3)]);
      const b=api.coord([api.value(1),api.value(2)]);
      return {type:'rect',shape:{x:a[0],y:a[1],width:b[0]-a[0],height:b[1]-a[1]},
        style:{fill:null,stroke:'#000',lineWidth:2,lineDash:[7,3.5]}};
    }}
];

chart.setOption({
  animation:false,
  backgroundColor:'#fff',
  textStyle:{fontFamily:FONT},
  grid:{left:112,right:90,top:40,bottom:38,show:true,borderColor:'#6b6b6b',borderWidth:1.2,backgroundColor:'transparent',containLabel:false,outerBoundsMode:'none'},
  legend:{data:legendNames,orient:'vertical',right:91,top:45,icon:'circle',itemWidth:24,itemHeight:5,itemGap:3.7,
    padding:[4,8,4,5],borderColor:'#cccccc',borderWidth:1,borderRadius:3,backgroundColor:'rgba(255,255,255,0.8)',
    textStyle:{fontFamily:FONT,fontSize:11,color:'#000',lineHeight:12},selectedMode:false},
  xAxis:{type:'value',min:-0.5,max:25,splitNumber:5,
    axisLine:{show:false},
    axisTick:{show:true,customValues:xTicks,length:4,lineStyle:{color:'#555'}},
    axisLabel:{customValues:xTicks,fontFamily:FONT,fontSize:15,color:'#000',margin:7},
    splitLine:{show:true,lineStyle:{color:'#cccccc',width:1}},
    name:'{n|Joint Log Likelihood → }{i|log p(x, y}{s|pred}{i|)}',
    nameLocation:'middle',nameGap:25,nameMoveOverlap:false,
    nameTextStyle:{fontFamily:FONT,fontSize:15,color:'#000',rich:{
      n:{fontFamily:FONT,fontSize:15,lineHeight:15,verticalAlign:'top'},
      i:{fontFamily:FONT,fontSize:15,fontStyle:'italic',lineHeight:15,verticalAlign:'top'},
      s:{fontFamily:FONT,fontSize:10.5,fontStyle:'italic',lineHeight:10,padding:[7,0,0,0],verticalAlign:'top'}}}
  },
  yAxis:[{type:'log',logBase:10,min:0.0184,max:0.293,
    axisLine:{show:false},
    axisTick:{show:true,customValues:yMajor,length:4,lineStyle:{color:'#555'}},
    axisLabel:{customValues:yMajor,fontFamily:FONT,fontSize:15,color:'#000',margin:7,formatter:function(){return '10⁻¹';}},
    splitLine:{show:true,lineStyle:{color:'#cccccc',width:1}},
    name:'{i|L}{s|1}{n| Error}',nameLocation:'middle',nameRotate:90,nameGap:43,nameMoveOverlap:false,
    nameTextStyle:{fontFamily:FONT,fontSize:15,color:'#000',rich:{
      n:{fontFamily:FONT,fontSize:15,lineHeight:15,verticalAlign:'top'},
      i:{fontFamily:FONT,fontSize:15,fontStyle:'italic',lineHeight:15,verticalAlign:'top'},
      s:{fontFamily:FONT,fontSize:10.5,lineHeight:10,padding:[7,0,0,0],verticalAlign:'top'}}}
  },{type:'log',logBase:10,min:0.0184,max:0.293,position:'left',gridIndex:0,
    axisLine:{show:false},
    axisTick:{show:true,customValues:yMinor,length:2.5,lineStyle:{color:'#555'}},
    axisLabel:{show:false},splitLine:{show:false}
  }],
  series:series
});
</script></body></html>
